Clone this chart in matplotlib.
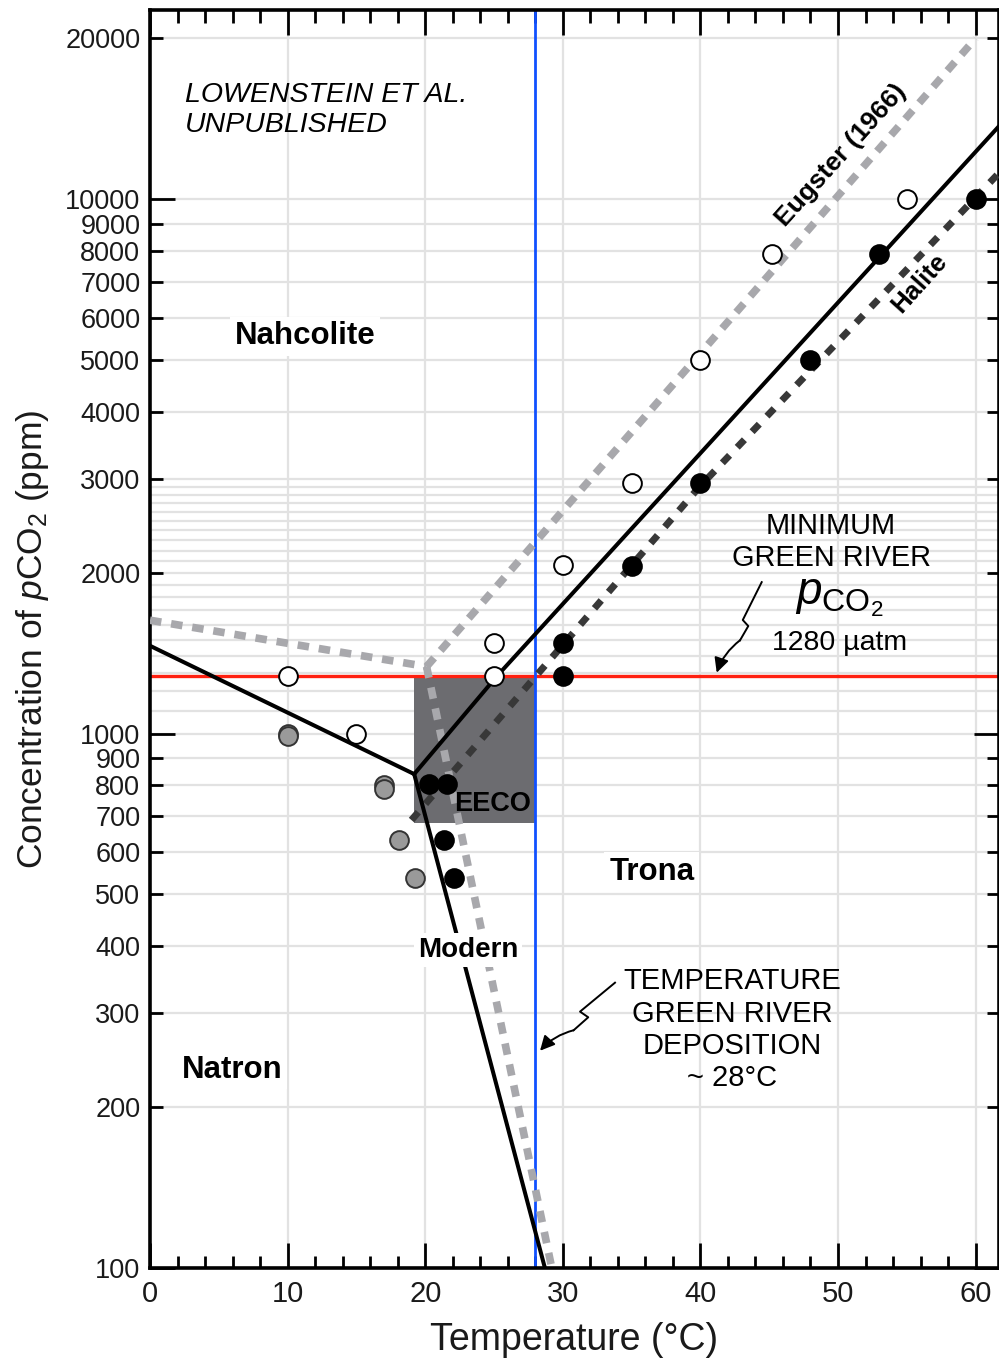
import numpy as np
import matplotlib
matplotlib.use("Agg")
import matplotlib.pyplot as plt
from matplotlib import font_manager

# fonts
names = set(f.name for f in font_manager.fontManager.ttflist)
narrow = "Liberation Sans Narrow" if "Liberation Sans Narrow" in names else "Liberation Sans"
plt.rcParams["font.family"] = ["Liberation Sans", "DejaVu Sans"]
plt.rcParams["mathtext.fontset"] = "custom"
plt.rcParams["mathtext.rm"] = "Liberation Sans"
plt.rcParams["mathtext.it"] = "Liberation Sans:italic"

# phase boundaries (Lowenstein et al., solid)
natron_nahc_T = [0, 19.2]
natron_nahc_p = [1460, 840]
nahc_trona_T = [19.2, 25.2, 61.7]
nahc_trona_p = [840, 1280, 13700]
natron_trona_T = [19.2, 28.7]
natron_trona_p = [840, 100]

# Eugster (1966) boundaries
eug_T = [[0, 20.1], [20.1, 60], [20.1, 29.2]]
eug_p = [[1630, 1335], [1335, 20000], [1335, 100]]

# halite saturated nahcolite/trona boundary
hal_T = [19.0, 39.9, 61.7]
hal_p = [689, 2890, 11200]

# experiments
open_T = [10, 15, 25, 25, 30, 35, 40, 45.2, 55]
open_p = [1280, 1000, 1480, 1280, 2070, 2950, 5000, 7900, 10000]
black_T = [20.3, 21.6, 21.4, 22.1, 30, 30, 35, 40, 48, 53, 60]
black_p = [804, 804, 632, 537, 1480, 1280, 2060, 2950, 5000, 7900, 10000]
grey_T = [10, 10, 17, 17, 18.1, 19.25]
grey_p = [1000, 988, 800, 788, 632, 537]

# EECO box and Green River constraints
eeco_T = [19.2, 28]
eeco_p = [680, 1280]
T_dep = 28
p_min = 1280

yticks_major = [100, 1000, 10000]
yticks_minor = [200, 300, 400, 500, 600, 700, 800, 900,
                2000, 3000, 4000, 5000, 6000, 7000, 8000, 9000, 20000]
ygrid = list(range(100, 1000, 100)) + list(range(1000, 3000, 100)) + \
    list(range(3000, 11000, 1000)) + [20000]

fig = plt.figure(figsize=(9.99, 13.6), dpi=100)
ax = fig.add_axes([150 / 999, 92 / 1360, 849 / 999, 1258 / 1360])
ax.set_yscale("log")
ax.set_xlim(0, 61.7)
ax.set_ylim(100, 22600)

for g in ygrid:
    ax.axhline(g, color="#e2e2e2", lw=1.6, zorder=0.5)
for g in range(10, 61, 10):
    ax.axvline(g, color="#e2e2e2", lw=1.6, zorder=0.5)

ax.fill_between(eeco_T, eeco_p[0], eeco_p[1], color="#6c6c70", lw=0, zorder=1)

ax.axhline(p_min, color="#ff2010", lw=2.4, zorder=2)
ax.axvline(T_dep, color="#1050ff", lw=2.0, zorder=2)

for tt, pp in zip(eug_T, eug_p):
    ax.plot(tt, pp, color="#a8a8ac", lw=5.5, ls=(0, (1.5, 1.3)),
            solid_capstyle="butt", dash_capstyle="butt", zorder=3)
ax.plot(hal_T, hal_p, color="#383838", lw=5.0, ls=(0, (1.5, 1.6)),
        dash_capstyle="butt", zorder=3)

for tt, pp in [(natron_nahc_T, natron_nahc_p), (nahc_trona_T, nahc_trona_p),
               (natron_trona_T, natron_trona_p)]:
    ax.plot(tt, pp, color="black", lw=2.9, zorder=4, solid_joinstyle="miter")

ax.plot(open_T, open_p, "o", ms=13.5, mfc="white", mec="black", mew=1.4, zorder=5)
ax.plot(grey_T, grey_p, "o", ms=13.5, mfc="#9a9a9a", mec="#333333", mew=1.4, zorder=5)
ax.plot(black_T, black_p, "o", ms=13.5, mfc="black", mec="black", mew=1.4, zorder=5)

# axes styling
for s in ax.spines.values():
    s.set_linewidth(2.6)
ax.set_xticks(range(0, 61, 10))
ax.set_xticks(np.arange(0, 62, 2), minor=True)
ax.set_yticks(yticks_major, labels=[str(v) for v in yticks_major])
ax.set_yticks(yticks_minor, labels=[str(v) for v in yticks_minor], minor=True)
ax.tick_params(which="both", direction="in", top=True, right=True, width=2.0,
               colors="black", labelcolor="#1a1a1a")
ax.tick_params(which="major", length=18)
ax.tick_params(which="minor", length=9)
ax.tick_params(axis="y", which="both", labelsize=19.5, pad=7)
ax.tick_params(axis="x", which="both", labelsize=21, pad=9)
for lab in ax.get_xticklabels():
    lab.set_family(narrow)

ax.set_xlabel("Temperature (°C)", fontsize=27, family=narrow, color="#1a1a1a", labelpad=10)
ax.set_ylabel("Concentration of $p$CO$_2$ (ppm)", fontsize=25.5, color="#1a1a1a", labelpad=10)

# labels
bold = dict(fontsize=22.5, fontweight="bold", ha="center", va="center", zorder=6)
box = dict(boxstyle="square,pad=0.15", fc="white", ec="none")
ax.text(11.26, 5540, "Nahcolite", bbox=box, **bold)
ax.text(5.96, 235, "Natron", bbox=box, **bold)
ax.text(36.46, 551, "Trona", bbox=box, **bold)
ax.text(23.1, 394, "Modern", fontsize=20, fontweight="bold", ha="center",
        va="center", zorder=6, bbox=box)
ax.text(24.9, 738, "EECO", fontsize=19.5, fontweight="bold", ha="center", va="center", zorder=6)
ax.text(50.2, 12080, "Eugster (1966)", fontsize=19, fontweight="bold",
        rotation=48, ha="center", va="center", zorder=6)
ax.text(55.9, 6966, "Halite", fontsize=18.5, fontweight="bold",
        rotation=48, ha="center", va="center", zorder=6)
ax.text(2.54, 14680, "LOWENSTEIN ET AL.\nUNPUBLISHED", fontsize=20.5, style="italic",
        ha="left", va="center", linespacing=1.2, zorder=6)

ax.text(49.5, 2286, "MINIMUM\nGREEN RIVER", fontsize=20.8, ha="center", va="center",
        linespacing=1.2, zorder=6)
ax.text(50.1, 1800, "$p_{\\mathrm{CO}_2}$", fontsize=33, ha="center", va="center", zorder=6)
ax.text(50.1, 1477, "%d \u00b5atm" % p_min, fontsize=20.5, ha="center", va="center", zorder=6)
ax.text(42.3, 279, "TEMPERATURE\nGREEN RIVER\nDEPOSITION\n~ %d°C" % T_dep, fontsize=21,
        ha="center", va="center", linespacing=1.2, zorder=6)

# lightning arrows
arr1 = [(0.7205, 0.5452), (0.6982, 0.5151), (0.7047, 0.5103), (0.6950, 0.4990)]
arr2 = [(0.5477, 0.2268), (0.5065, 0.2038), (0.5162, 0.1993), (0.4990, 0.1890)]
heads = [(0.6675, 0.4732), (0.4594, 0.1727)]
for pts, hd in zip([arr1, arr2], heads):
    xs, ys = zip(*pts)
    ax.plot(xs, ys, color="black", lw=1.4, transform=ax.transAxes, zorder=6,
            clip_on=False)
    ax.annotate("", xy=hd, xytext=pts[-1], xycoords="axes fraction",
                textcoords="axes fraction", zorder=6,
                arrowprops=dict(arrowstyle="-|>", lw=1.4, color="black",
                                mutation_scale=22, shrinkA=0, shrinkB=0,
                                connectionstyle="arc3,rad=0.15"))

fig.savefig("out.png", dpi=100)
